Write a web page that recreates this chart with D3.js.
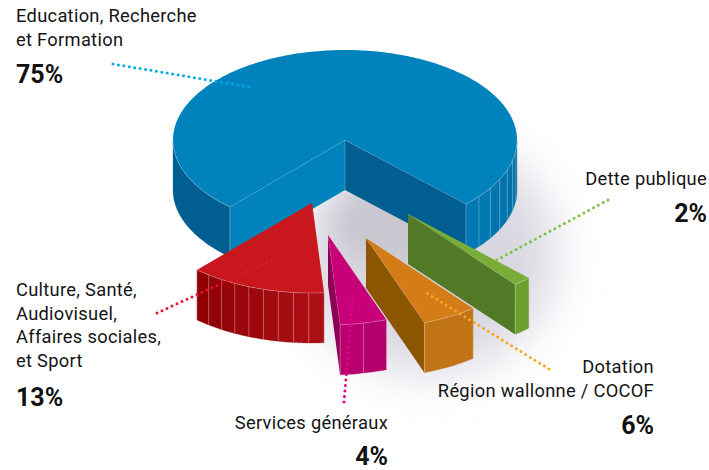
<!DOCTYPE html>
<html><head><meta charset="utf-8">
<script src="https://d3js.org/d3.v7.min.js"></script>
<style>html,body{margin:0;background:#fff}svg{display:block}text{font-family:Roboto,sans-serif;fill:#1a1a1a}</style>
</head><body><svg id="c" width="709" height="470"></svg>
<script>
// Data
const categories = ["Education, Recherche et Formation","Dette publique","Dotation Région wallonne / COCOF","Services généraux","Culture, Santé, Audiovisuel, Affaires sociales, et Sport"];
const labelPercents = [75,2,6,4,13];
const drawnShares = [76.0,1.7,5.2,4.4,12.8]; // arc sizes as measured on the drawing

// Layout
const W=709,H=470,cx=345,cy=140,rx=172,ry=90,depth=50;
const explode=[[0,0],[63,74],[21,98],[-17,95],[-33,63]];
const topCol=["#0082bd","#7aad38","#d47c17","#c8007a","#c8171d"];
const sideCol=["#005f90","#527a26","#8c5600","#8e0058","#005f90"];
const wallFrom=["#0078b4","#6c9e30","#c07415","#b3006c","#8f0005"];
const wallTo=["#006ea6","#6c9e30","#bd7216","#ba0070","#ab1015"];
const facets=[7,1,1,2,9];
const RAD=Math.PI/180;

const svg=d3.select("#c");
const sx=d3.scaleLinear().domain([-1,1]).range([cx-rx,cx+rx]);
const sy=d3.scaleLinear().domain([-1,1]).range([cy-ry,cy+ry]);
const pie=d3.pie().sort(null).value(v=>v).startAngle(-138*RAD).endAngle(222*RAD);
const arcs=pie(drawnShares);
const line=d3.line();

const defs=svg.append("defs");
defs.append("filter").attr("id","blur").attr("x","-50%").attr("y","-50%").attr("width","200%").attr("height","200%")
  .append("feGaussianBlur").attr("stdDeviation",24);
defs.append("filter").attr("id","blur2").attr("x","-50%").attr("y","-50%").attr("width","200%").attr("height","200%")
  .append("feGaussianBlur").attr("stdDeviation",12);

// Cast shadow
svg.append("ellipse").attr("cx",428).attr("cy",255).attr("rx",128).attr("ry",118).attr("fill","#d8d7e0").attr("filter","url(#blur)");
svg.append("ellipse").attr("cx",395).attr("cy",225).attr("rx",60).attr("ry",40).attr("fill","#c8c7d0").attr("filter","url(#blur2)");

function pt(t,z,o){return [sx(Math.sin(t))+o[0], sy(-Math.cos(t))+z+o[1]];}
function arcPts(a,b,z,o){const n=Math.max(2,Math.ceil(Math.abs(b-a)/(1*RAD)));return d3.range(n+1).map(i=>pt(a+(b-a)*i/n,z,o));}
const edge="rgba(255,255,255,0.3)";

function drawSlice(i){
  const d=arcs[i],o=explode[i],g=svg.append("g");
  const apex=[cx+o[0],cy+o[1]],apexB=[apex[0],apex[1]+depth];
  const a=d.startAngle,b=d.endAngle;
  // inner walls that face the viewer
  if(Math.sin(b)>0){
    const c=pt(b,0,o),cb=pt(b,depth,o);
    g.append("path").attr("d",line([apex,c,cb,apexB])+"Z").attr("fill",sideCol[i]);
    g.append("path").attr("d",line([apex,c]).toString()).attr("stroke",edge).attr("fill","none").attr("stroke-width",.8);
  }
  if(-Math.sin(a)>0){
    const c=pt(a,0,o),cb=pt(a,depth,o);
    g.append("path").attr("d",line([apex,c,cb,apexB])+"Z").attr("fill",i===0?topCol[0]:sideCol[i]);
    g.append("path").attr("d",line([apex,c]).toString()).attr("stroke",edge).attr("fill","none").attr("stroke-width",.8);
  }
  if(i===0) g.append("path").attr("d",line([apex,apexB])).attr("stroke",edge).attr("stroke-width",.8);
  // outer wall, only the part facing the viewer
  [[-270*RAD,-90*RAD],[90*RAD,270*RAD]].forEach(([lo,hi])=>{
    const s=Math.max(a,lo),e=Math.min(b,hi);
    if(e<=s) return;
    const isMainLeft=i===0&&e<0, n=isMainLeft?1:facets[i];
    const col=d3.interpolateRgb(isMainLeft?sideCol[0]:wallFrom[i],isMainLeft?sideCol[0]:wallTo[i]);
    d3.range(n).forEach(k=>{
      const t0=i===0?e-(e-s)*k/n:s+(e-s)*k/n;
      const t1=i===0?e-(e-s)*(k+1)/n:s+(e-s)*(k+1)/n;
      const top=arcPts(t0,t1,0,o),bot=arcPts(t1,t0,depth,o);
      const tc=n>1?(i===4?1-k/(n-1):k/(n-1)):0;
      g.append("path").attr("d",line(top.concat(bot))+"Z").attr("fill",col(tc)).attr("stroke",col(tc)).attr("stroke-width",.3);
    });
    d3.range(0,n+1).forEach(k=>{
      const t=s+(e-s)*k/n;
      if(Math.abs(Math.sin(t))>0.995) return;
      g.append("path").attr("d",line([pt(t,0,o),pt(t,depth,o)])).attr("stroke",edge).attr("stroke-width",.9).attr("fill","none");
    });
  });
  // top face
  const rim=arcPts(a,b,0,o);
  g.append("path").attr("d",line([apex].concat(rim))+"Z").attr("fill",topCol[i]);
  [[-270*RAD,-90*RAD],[90*RAD,270*RAD]].forEach(([lo,hi])=>{
    const s=Math.max(a,lo),e=Math.min(b,hi);
    if(e<=s) return;
    g.append("path").attr("d",line(arcPts(s,e,0,o))).attr("stroke",edge).attr("stroke-width",.9).attr("fill","none");
  });
}
[0,1,2,3,4].forEach(drawSlice);

// Leader lines
const leaders=[[[113,64],[250,87],"#00a9e6"],[[608,200],[493,262],"#7ec143"],[[549,369],[425,292],"#f9a51a"],[[344,402],[353,294],"#e6007e"],[[157,313],[272,260],"#e3162d"]];
svg.selectAll(".lead").data(leaders).join("path").attr("class","lead")
  .attr("d",d=>line([d[0],d[1]])).attr("stroke",d=>d[2]).attr("stroke-width",3)
  .attr("stroke-linecap","round").attr("stroke-dasharray","0 5.5").attr("fill","none");

// Labels
const labelLines=[["Education, Recherche","et Formation"],["Dette publique"],["Dotation","Région wallonne / COCOF"],["Services généraux"],["Culture, Santé,","Audiovisuel,","Affaires sociales,","et Sport"]];
const labelPos=[
 {x:16,anchor:"start",y:[22,46],py:83},
 {x:707,anchor:"end",y:[185],py:222},
 {x:654,anchor:"end",y:[373,397],py:434},
 {x:388,anchor:"end",y:[429],py:465},
 {x:16,anchor:"start",y:[296,320,343,367],py:406}];
labelLines.forEach((ls,i)=>{
  const p=labelPos[i];
  ls.forEach((t,j)=>svg.append("text").attr("x",p.x).attr("y",p.y[j]).attr("text-anchor",p.anchor)
    .attr("font-size",18.3).attr("letter-spacing",.3).style("fill","#141414").text(t));
  svg.append("text").attr("x",p.x).attr("y",p.py).attr("text-anchor",p.anchor)
    .attr("font-size",25).attr("font-weight",700).style("fill","#111").text(labelPercents[i]+"%");
});
</script></body></html>
